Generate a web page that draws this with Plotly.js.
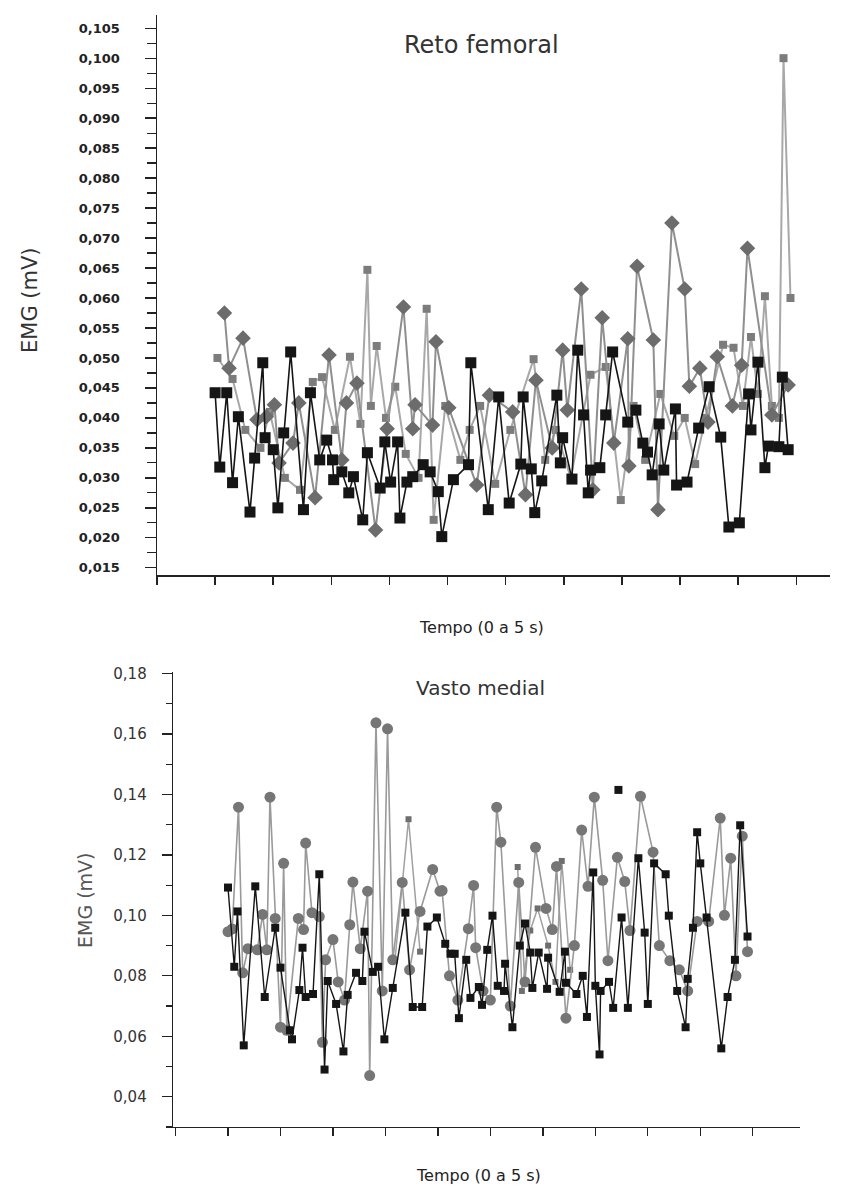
<!DOCTYPE html>
<html>
<head>
<meta charset="utf-8">
<script src="https://cdn.plot.ly/plotly-3.0.1.min.js"></script>
<style>html,body{margin:0;padding:0;background:#fff}#chart{width:846px;height:1196px}</style>
</head>
<body>
<div id="chart"></div>
<script>
// ---------- Reto femoral (top) ----------
const rfBlackT = [0,0.04,0.10,0.15,0.20,0.30,0.34,0.41,0.43,0.50,0.54,0.59,0.65,0.76,0.82,0.90,0.96,1.01,1.02,1.09,1.15,1.19,1.27,1.31,1.42,1.46,1.51,1.57,1.59,1.65,1.70,1.79,1.85,1.92,1.95,2.05,2.18,2.20,2.35,2.44,2.53,2.63,2.65,2.72,2.75,2.81,2.94,2.97,2.99,3.07,3.12,3.17,3.21,3.23,3.31,3.36,3.42,3.55,3.62,3.68,3.72,3.76,3.82,3.86,3.96,3.97,4.06,4.16,4.25,4.35,4.42,4.51,4.59,4.61,4.67,4.73,4.76,4.85,4.88,4.93];
const rfBlackV = [0.0442,0.0318,0.0442,0.0292,0.0402,0.0243,0.0333,0.0492,0.0367,0.0347,0.0250,0.0375,0.0510,0.0247,0.0442,0.0330,0.0363,0.0330,0.0297,0.0310,0.0275,0.0302,0.0230,0.0342,0.0283,0.0360,0.0293,0.0360,0.0233,0.0293,0.0302,0.0322,0.0310,0.0277,0.0202,0.0297,0.0322,0.0492,0.0247,0.0435,0.0258,0.0323,0.0435,0.0315,0.0242,0.0295,0.0438,0.0325,0.0367,0.0298,0.0513,0.0405,0.0275,0.0313,0.0317,0.0405,0.0510,0.0393,0.0413,0.0358,0.0343,0.0305,0.0390,0.0313,0.0415,0.0288,0.0293,0.0383,0.0452,0.0368,0.0218,0.0225,0.0440,0.0380,0.0493,0.0317,0.0353,0.0352,0.0468,0.0347];

const rfDiamondT = [0.08,0.12,0.24,0.36,0.44,0.51,0.55,0.67,0.72,0.86,0.98,1.09,1.13,1.22,1.38,1.48,1.62,1.70,1.72,1.87,1.90,2.01,2.25,2.36,2.56,2.67,2.76,2.90,2.99,3.03,3.15,3.25,3.33,3.43,3.55,3.56,3.63,3.77,3.81,3.93,4.04,4.08,4.17,4.24,4.32,4.45,4.53,4.58,4.79,4.93];
const rfDiamondV = [0.0575,0.0483,0.0533,0.0397,0.0402,0.0422,0.0325,0.0358,0.0425,0.0267,0.0505,0.0330,0.0425,0.0458,0.0213,0.0382,0.0585,0.0382,0.0422,0.0388,0.0527,0.0417,0.0288,0.0438,0.0410,0.0272,0.0463,0.0350,0.0513,0.0413,0.0615,0.0280,0.0567,0.0358,0.0532,0.0320,0.0653,0.0530,0.0247,0.0725,0.0615,0.0453,0.0483,0.0393,0.0502,0.0420,0.0488,0.0683,0.0405,0.0455];

const rfGrayT = [0.02,0.15,0.26,0.39,0.47,0.60,0.73,0.84,0.92,1.03,1.16,1.25,1.31,1.34,1.39,1.47,1.55,1.64,1.75,1.82,1.88,1.98,2.11,2.19,2.28,2.41,2.54,2.74,2.84,2.93,3.06,3.23,3.36,3.49,3.60,3.70,3.83,3.95,4.04,4.13,4.22,4.37,4.46,4.54,4.61,4.67,4.73,4.79,4.85,4.89,4.95];
const rfGrayV = [0.0500,0.0465,0.0380,0.0350,0.0410,0.0300,0.0280,0.0460,0.0468,0.0380,0.0502,0.0390,0.0647,0.0420,0.0520,0.0400,0.0452,0.0340,0.0300,0.0582,0.0230,0.0420,0.0330,0.0380,0.0420,0.0290,0.0380,0.0498,0.0330,0.0380,0.0300,0.0472,0.0485,0.0263,0.0420,0.0330,0.0440,0.0370,0.0400,0.0323,0.0400,0.0522,0.0517,0.0420,0.0535,0.0440,0.0603,0.0420,0.0400,0.1000,0.0600];

const rfYTicks = [0.015,0.020,0.025,0.030,0.035,0.040,0.045,0.050,0.055,0.060,0.065,0.070,0.075,0.080,0.085,0.090,0.095,0.100,0.105];

// ---------- Vasto medial (bottom) ----------
const vmCircleT = [0.00,0.04,0.10,0.14,0.19,0.28,0.33,0.37,0.40,0.45,0.50,0.53,0.56,0.67,0.72,0.74,0.80,0.87,0.90,0.93,1.00,1.05,1.11,1.16,1.19,1.26,1.33,1.35,1.41,1.47,1.52,1.57,1.66,1.73,1.83,1.95,2.02,2.04,2.11,2.19,2.29,2.34,2.36,2.43,2.50,2.56,2.60,2.69,2.77,2.83,2.93,3.03,3.09,3.13,3.22,3.30,3.37,3.43,3.49,3.57,3.62,3.71,3.78,3.83,3.93,4.05,4.11,4.21,4.30,4.38,4.47,4.58,4.69,4.73,4.79,4.84,4.90,4.95];
const vmCircleV = [0.0946,0.0955,0.1358,0.0810,0.0890,0.0886,0.1003,0.0886,0.1391,0.0990,0.0630,0.1172,0.0620,0.0990,0.0953,0.1239,0.1009,0.0996,0.0580,0.0853,0.0920,0.0780,0.0720,0.0969,0.1110,0.0890,0.1080,0.0470,0.1637,0.0750,0.1617,0.0853,0.1109,0.0820,0.1013,0.1152,0.1080,0.1082,0.0800,0.0720,0.0956,0.1099,0.0893,0.0750,0.0720,0.1358,0.1242,0.0700,0.1109,0.0780,0.1225,0.1023,0.0953,0.1162,0.0660,0.0900,0.1282,0.1096,0.1391,0.1116,0.0850,0.1192,0.1112,0.0950,0.1394,0.1209,0.0900,0.0850,0.0820,0.0750,0.0980,0.0980,0.1322,0.1000,0.1189,0.0800,0.1262,0.0880];

const vmBlackT = [0.00,0.06,0.09,0.15,0.26,0.35,0.45,0.50,0.59,0.61,0.68,0.71,0.74,0.81,0.87,0.92,0.95,1.03,1.10,1.14,1.22,1.28,1.30,1.38,1.43,1.49,1.57,1.69,1.76,1.85,1.90,1.99,2.07,2.12,2.16,2.20,2.27,2.31,2.39,2.42,2.47,2.52,2.57,2.63,2.64,2.71,2.78,2.83,2.88,2.90,2.96,3.04,3.05,3.16,3.21,3.22,3.32,3.38,3.42,3.48,3.50,3.54,3.55,3.63,3.67,3.75,3.81,3.91,3.97,4.00,4.06,4.17,4.20,4.28,4.36,4.38,4.43,4.47,4.50,4.56,4.70,4.76,4.83,4.88,4.95];
const vmBlackV = [0.1092,0.0830,0.1013,0.0570,0.1096,0.0730,0.0959,0.0827,0.0620,0.0590,0.0753,0.0893,0.0730,0.0740,0.1136,0.0490,0.0783,0.0707,0.0550,0.0737,0.0810,0.0783,0.0946,0.0813,0.0830,0.0590,0.0760,0.1009,0.0697,0.0697,0.0963,0.0993,0.0906,0.0873,0.0873,0.0660,0.0853,0.0727,0.0763,0.0704,0.0886,0.0999,0.0767,0.0750,0.0840,0.0630,0.0900,0.0973,0.0877,0.0760,0.0877,0.0757,0.0860,0.0747,0.0880,0.0777,0.0740,0.0800,0.0664,0.1142,0.0767,0.0540,0.0750,0.0780,0.0694,0.0993,0.0694,0.1189,0.0943,0.0707,0.1172,0.1136,0.0999,0.0750,0.0630,0.0790,0.0959,0.1275,0.1172,0.0993,0.0560,0.0730,0.0853,0.1298,0.0930];

const vmLoneT = [3.72];
const vmLoneV = [0.1415];

// small grey squares, two separate stretches (null = gap)
const vmSmallT = [1.59,1.72,1.83,null,2.76,2.80,2.88,2.95,3.05,3.12,3.18,3.26];
const vmSmallV = [0.0850,0.1318,0.0880,null,0.1160,0.0750,0.0950,0.1023,0.0900,0.0780,0.1180,0.0820];

const vmYTicks = [0.04,0.06,0.08,0.10,0.12,0.14,0.16,0.18];

// ---------- drawing ----------
const FONT = 'DejaVu Sans, Verdana, sans-serif';
const fmt = (v, d) => v.toFixed(d).replace('.', ',');

const traces = [
  {x: rfGrayT, y: rfGrayV, xaxis:'x', yaxis:'y', mode:'lines+markers',
   line:{color:'#a8a8a8', width:2}, marker:{symbol:'square', size:8, color:'#7c7c7c'}},
  {x: rfDiamondT, y: rfDiamondV, xaxis:'x', yaxis:'y', mode:'lines+markers',
   line:{color:'#8f8f8f', width:2}, marker:{symbol:'diamond', size:12, color:'#6c6c6c'}},
  {x: rfBlackT, y: rfBlackV, xaxis:'x', yaxis:'y', mode:'lines+markers',
   line:{color:'#151515', width:1.6}, marker:{symbol:'square', size:11, color:'#151515'}},

  {x: vmSmallT, y: vmSmallV, xaxis:'x2', yaxis:'y2', mode:'lines+markers',
   line:{color:'#a0a0a0', width:1.5}, marker:{symbol:'square', size:6, color:'#6e6e6e'}},
  {x: vmCircleT, y: vmCircleV, xaxis:'x2', yaxis:'y2', mode:'lines+markers',
   line:{color:'#9a9a9a', width:1.6}, marker:{symbol:'circle', size:11, color:'#767676'}},
  {x: vmBlackT, y: vmBlackV, xaxis:'x2', yaxis:'y2', mode:'lines+markers',
   line:{color:'#151515', width:1.4}, marker:{symbol:'square', size:8, color:'#151515'}},
  {x: vmLoneT, y: vmLoneV, xaxis:'x2', yaxis:'y2', mode:'markers',
   marker:{symbol:'square', size:8, color:'#151515'}}
];

const W = 846, H = 1196;
const px = v => v / W, py = v => 1 - v / H;

const layout = {
  width: W, height: H,
  margin: {l:0, r:0, t:0, b:0},
  paper_bgcolor:'#ffffff', plot_bgcolor:'#ffffff',
  showlegend:false,
  font:{family:FONT, color:'#222'},
  xaxis: {domain:[px(157), px(830)], range:[-0.5, 5.29], anchor:'y',
    showgrid:false, zeroline:false, showline:true, linecolor:'#222', linewidth:1.5,
    ticks:'outside', ticklen:8, tickwidth:1.5, tickcolor:'#222', dtick:0.5, tick0:0,
    showticklabels:false},
  yaxis: {domain:[py(575), py(15)], range:[0.0138, 0.1072], anchor:'x',
    showgrid:false, zeroline:false, showline:true, linecolor:'#222', linewidth:1.5,
    ticks:'outside', ticklen:11, tickwidth:1.3, tickcolor:'#222', ticklabelstandoff:22,
    tickmode:'array', tickvals:rfYTicks, ticktext:rfYTicks.map(v=>fmt(v,3)),
    tickfont:{family:FONT, size:13, weight:'bold', color:'#222'},
    minor:{dtick:0.0025, tick0:0.015, ticks:'outside', ticklen:9, tickwidth:1.2, tickcolor:'#222'}},
  xaxis2: {domain:[px(173), px(800)], range:[-0.524, 5.45], anchor:'y2',
    showgrid:false, zeroline:false, showline:true, linecolor:'#222', linewidth:1.3,
    ticks:'outside', ticklen:8, tickwidth:1.3, tickcolor:'#222', dtick:0.5, tick0:0,
    showticklabels:false},
  yaxis2: {domain:[py(1127), py(672)], range:[0.03, 0.1805], anchor:'x2',
    showgrid:false, zeroline:false, showline:true, linecolor:'#222', linewidth:1.3,
    ticks:'outside', ticklen:10, tickwidth:1.3, tickcolor:'#222', ticklabelstandoff:12,
    tickmode:'array', tickvals:vmYTicks, ticktext:vmYTicks.map(v=>fmt(v,2)),
    tickfont:{family:FONT, size:15, color:'#333'},
    minor:{dtick:0.01, tick0:0.03, ticks:'outside', ticklen:6, tickwidth:1.2, tickcolor:'#222'}},
  annotations: [
    {text:'Reto femoral', xref:'paper', yref:'paper', x:px(481), y:py(45), xanchor:'center', yanchor:'middle',
     showarrow:false, font:{family:FONT, size:24, color:'#333'}},
    {text:'Tempo (0 a 5 s)', xref:'paper', yref:'paper', x:px(481), y:py(627), xanchor:'center', yanchor:'middle',
     showarrow:false, font:{family:FONT, size:16, color:'#222'}},
    {text:'EMG (mV)', xref:'paper', yref:'paper', x:px(30), y:py(300), xanchor:'center', yanchor:'middle',
     textangle:-90, showarrow:false, font:{family:FONT, size:21, color:'#333'}},
    {text:'Vasto medial', xref:'paper', yref:'paper', x:px(480), y:py(688), xanchor:'center', yanchor:'middle',
     showarrow:false, font:{family:FONT, size:20, color:'#333'}},
    {text:'Tempo (0 a 5 s)', xref:'paper', yref:'paper', x:px(478), y:py(1175), xanchor:'center', yanchor:'middle',
     showarrow:false, font:{family:FONT, size:16, color:'#222'}},
    {text:'EMG (mV)', xref:'paper', yref:'paper', x:px(85), y:py(900), xanchor:'center', yanchor:'middle',
     textangle:-90, showarrow:false, font:{family:FONT, size:19, color:'#555'}}
  ]
};

Plotly.newPlot('chart', traces, layout, {displayModeBar:false, staticPlot:true});
</script>
</body>
</html>
